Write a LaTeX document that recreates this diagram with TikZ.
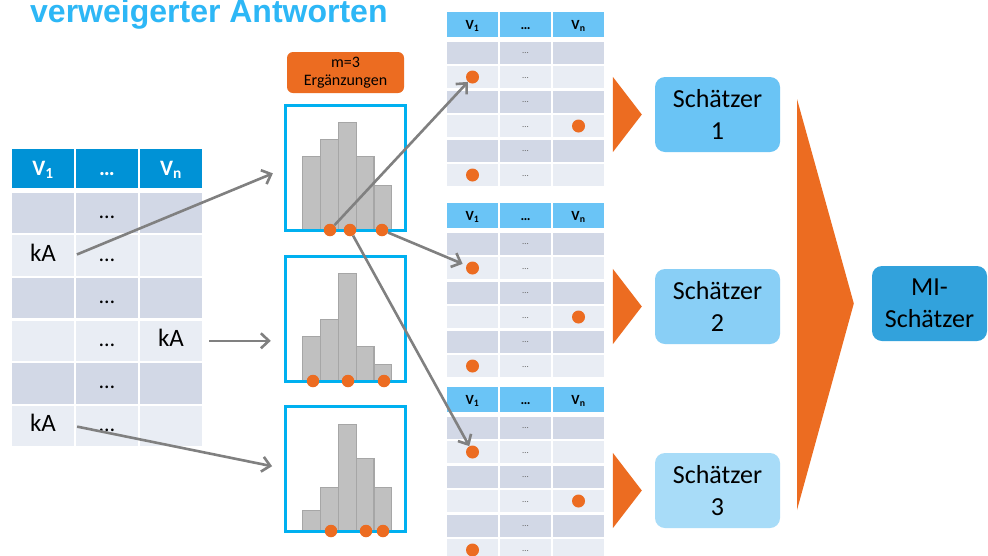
\documentclass[tikz,border=0pt]{standalone}
\usepackage{fontspec}
\setmainfont{Carlito}
\newfontfamily\titlefont{Liberation Sans}
\usetikzlibrary{arrows.meta,calc}

\definecolor{titleblue}{RGB}{45,183,246}
\definecolor{headblue}{RGB}{0,146,214}
\definecolor{headlight}{RGB}{106,196,246}
\definecolor{rowdark}{RGB}{210,216,230}
\definecolor{rowlight}{RGB}{233,237,244}
\definecolor{boxblue}{RGB}{0,176,240}
\definecolor{impute}{RGB}{236,108,33}
\definecolor{barfill}{RGB}{192,192,192}
\definecolor{baredge}{RGB}{166,166,166}
\definecolor{arrowgray}{RGB}{128,128,128}
\definecolor{estA}{RGB}{106,196,245}
\definecolor{estB}{RGB}{137,207,246}
\definecolor{estC}{RGB}{168,220,248}
\definecolor{miblue}{RGB}{50,162,220}

\tikzset{
  bigcell/.style={inner sep=0pt, minimum width=62pt, minimum height=40.5pt,
    text height=15pt, text depth=4pt, font=\fontsize{22}{26}\selectfont},
  bighead/.style={bigcell, fill=headblue, text=white, minimum height=39pt,
    text height=14pt, text depth=0pt, font=\fontsize{22}{26}\selectfont\bfseries},
  rcell/.style={inner sep=0pt, minimum width=51pt, minimum height=22pt,
    text height=2pt, text depth=0pt, text=black!60, font=\fontsize{9}{10}\selectfont},
  rhead/.style={rcell, fill=headlight, text=black, minimum height=25pt,
    text height=9pt, font=\fontsize{14}{16}\selectfont\bfseries},
  impdot/.style={circle, fill=impute, inner sep=0pt, minimum size=12.5pt},
  pfeil/.style={draw=arrowgray, line width=2.6pt,
    -{Straight Barb[length=8pt,width=15pt]}},
  histbar/.style={fill=barfill, draw=baredge, line width=1.2pt},
  estbox/.style={rounded corners=10pt, minimum width=125pt, minimum height=75pt,
    align=center, inner sep=0pt, font=\fontsize{26}{32}\selectfont},
}

\begin{document}
\begin{tikzpicture}[x=1pt, y=-1pt]

\fill[white] (0,0) rectangle (988,555);
\useasboundingbox (0,0) rectangle (988,555);

% Title
\node[anchor=base west, inner sep=0pt, text=titleblue,
  font=\titlefont\bfseries\fontsize{32}{38}\selectfont] (titel) at (30,22) {verweigerter Antworten};

% Data with missing answers
\foreach \txt [count=\c] in {V\textsubscript{1}, \ldots, V\textsubscript{n}}
  \node[bighead] (L-0-\c) at ({43+64*(\c-1)},168.5) {\txt};
\foreach \r in {1,...,6}{
  \ifodd\r\relax\def\shade{rowdark}\else\def\shade{rowlight}\fi
  \node[bigcell, fill=\shade] (L-\r-1) at (43,{213+42.6*(\r-1)}) {};
  \node[bigcell, fill=\shade] (L-\r-2) at (107,{213+42.6*(\r-1)}) {\ldots};
  \node[bigcell, fill=\shade] (L-\r-3) at (171,{213+42.6*(\r-1)}) {};
}
\node[bigcell, minimum width=0pt, font=\fontsize{25}{30}\selectfont] (kA1) at (L-2-1) {kA};
\node[bigcell, minimum width=0pt, font=\fontsize{25}{30}\selectfont] (kA2) at (L-4-3) {kA};
\node[bigcell, minimum width=0pt, font=\fontsize{25}{30}\selectfont] (kA3) at (L-6-1) {kA};

% Label above the histograms
\node[fill=impute, rounded corners=6pt, minimum width=117pt, minimum height=41pt,
  inner sep=0pt, align=center, font=\fontsize{16}{18}\selectfont] (erg) at (345.5,72.5) {m=3\\Erg\"anzungen};

% Histograms
\foreach \n/\y/\hs in {1/168/{74,91,108,74,45}, 2/319/{45,62,108,35,17}, 3/469/{21,44,107,73,44}}{
  \node[minimum width=119pt, minimum height=125pt, inner sep=0pt] (H\n) at (345.5,\y) {};
  \foreach \h [count=\i] in \hs
    \draw[histbar] ($(H\n.south west)+({17+17.8*(\i-1)},0)$) rectangle ++(17.8,-\h);
  \draw[boxblue, line width=3pt] (H\n.south west) rectangle (H\n.north east);
}

% Drawn values
\foreach \n/\y/\xs in {1/230/{330,350,382}, 2/381/{313,348,384}, 3/531/{331,366,383}}
  \foreach \x [count=\k] in \xs
    \node[impdot] (D-\n-\k) at (\x,\y) {};

% Completed data sets
\foreach \t/\ty in {1/12, 2/203, 3/387}{
  \foreach \txt [count=\c] in {V\textsubscript{1}, \ldots, V\textsubscript{n}}
    \node[rhead] (T\t-0-\c) at ({472.5+53*(\c-1)},{\ty+12.5}) {\txt};
  \foreach \r in {1,...,6}{
    \ifodd\r\relax\def\shade{rowdark}\else\def\shade{rowlight}\fi
    \node[rcell, fill=\shade] (T\t-\r-1) at (472.5,{\ty+40.5+24.5*(\r-1)}) {};
    \node[rcell, fill=\shade] (T\t-\r-2) at (525.5,{\ty+40.5+24.5*(\r-1)}) {\ldots};
    \node[rcell, fill=\shade] (T\t-\r-3) at (578.5,{\ty+40.5+24.5*(\r-1)}) {};
  }
  \node[impdot, minimum size=13pt] (P-\t-1) at (T\t-2-1) {};
  \node[impdot, minimum size=13pt] (P-\t-2) at (T\t-4-3) {};
  \node[impdot, minimum size=13pt] (P-\t-3) at (T\t-6-1) {};
}

% Arrows
\draw[pfeil, shorten <=3pt, shorten >=14pt] (L-2-1.east) -- (H1.west);
\draw[pfeil, shorten <=7pt, shorten >=15pt] (L-4-3.east) -- (L-4-3.east -| H2.west);
\draw[pfeil, shorten <=3pt, shorten >=14pt] (L-6-1.east) -- (H3.west);
\draw[pfeil] (D-1-1) -- (P-1-1);
\draw[pfeil, shorten >=4pt] (D-1-3) -- (P-2-1);
\draw[pfeil] (D-1-2) -- (P-3-1);

% Estimates
\foreach \s/\y/\col in {1/114.5/estA, 2/306.5/estB, 3/490.5/estC}{
  \node[estbox, fill=\col] (S\s) at (717.5,\y) {Sch\"atzer\\\s};
  \fill[impute] ($(S\s.north west)+(-42,0)$) -- ($(S\s.west)+(-13,0)$)
    -- ($(S\s.south west)+(-42,0)$) -- cycle;
}

% Pooling
\node[estbox, fill=miblue, minimum width=115pt] (MI) at (929.5,303.5) {MI-\\Sch\"atzer};
\fill[impute] (797,99) -- ($(MI.west)+(-18,0)$) -- (797,510) -- cycle;

\end{tikzpicture}
\end{document}
